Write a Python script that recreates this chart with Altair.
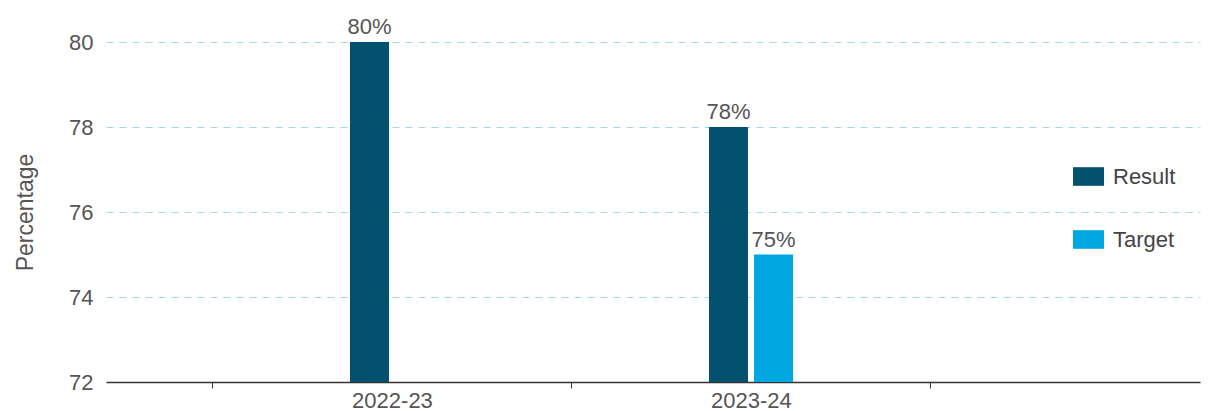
import altair as alt
import pandas as pd

years = ["2022-23", "2023-24", "2023-24"]
series = ["Result", "Result", "Target"]
values = [80, 78, 75]
labels = ["80%", "78%", "75%"]

df = pd.DataFrame({"year": years, "series": series, "value": values, "label": labels})

font = "Liberation Sans"
fs = 22
x_scale = alt.Scale(domain=["2022-23", "2023-24"], paddingInner=0, paddingOuter=0.5237, align=0.2832)
x_enc = alt.X(
    "year:N",
    title=None,
    scale=x_scale,
    axis=alt.Axis(labelAngle=0, labelFontSize=fs, labelColor="#555555", labelFont=font,
                  domainColor="#333333", domainWidth=1.5, tickColor="#333333", tickSize=6,
                  tickBand="extent", labelPadding=2, grid=False),
)
xo_enc = alt.XOffset("series:N", scale=alt.Scale(domain=["Result", "Target"], paddingInner=0.1333,
                                                  paddingOuter=0, range=[137.5, 221.5]))

bars = alt.Chart(df).mark_bar(clip=True).encode(
    x=x_enc,
    xOffset=xo_enc,
    y=alt.Y("value:Q", title="Percentage",
            scale=alt.Scale(domain=[72, 80], nice=False, zero=False),
            axis=alt.Axis(values=[72, 74, 76, 78, 80], labelFontSize=fs, labelColor="#555555",
                          labelFont=font, titleFont=font, titleFontSize=23, titleColor="#555555",
                          titleFontWeight="normal", domain=False, ticks=False, labelPadding=13,
                          titlePadding=31, gridColor="#9fd9f2", gridDash=[7, 6], gridWidth=1)),
    color=alt.Color("series:N", title=None,
                    scale=alt.Scale(domain=["Result", "Target"], range=["#03506F", "#00A7E1"]),
                    legend=alt.Legend(orient="none", legendX=967, legendY=119,
                                      symbolType="M-1,-0.6H1V0.6H-1Z", symbolSize=961,
                                      symbolStrokeWidth=0, labelFontSize=fs, labelFont=font,
                                      labelColor="#444444", labelOffset=9, rowPadding=36, padding=0)),
)

text = alt.Chart(df).mark_text(baseline="bottom", dy=-3, fontSize=fs, font=font, color="#555555").encode(
    x=alt.X("year:N", scale=x_scale),
    xOffset=xo_enc,
    y=alt.Y("value:Q"),
    text="label:N",
)

chart = alt.layer(bars, text).properties(
    width=1094, height=340,
    autosize=alt.AutoSizeParams(type="none"),
    padding={"left": 98, "top": 34, "right": 2, "bottom": 29},
).configure_view(stroke=None).configure_axisY(gridOpacity=1)

chart.save("out.html", embed_options={"renderer": "svg", "actions": False})
